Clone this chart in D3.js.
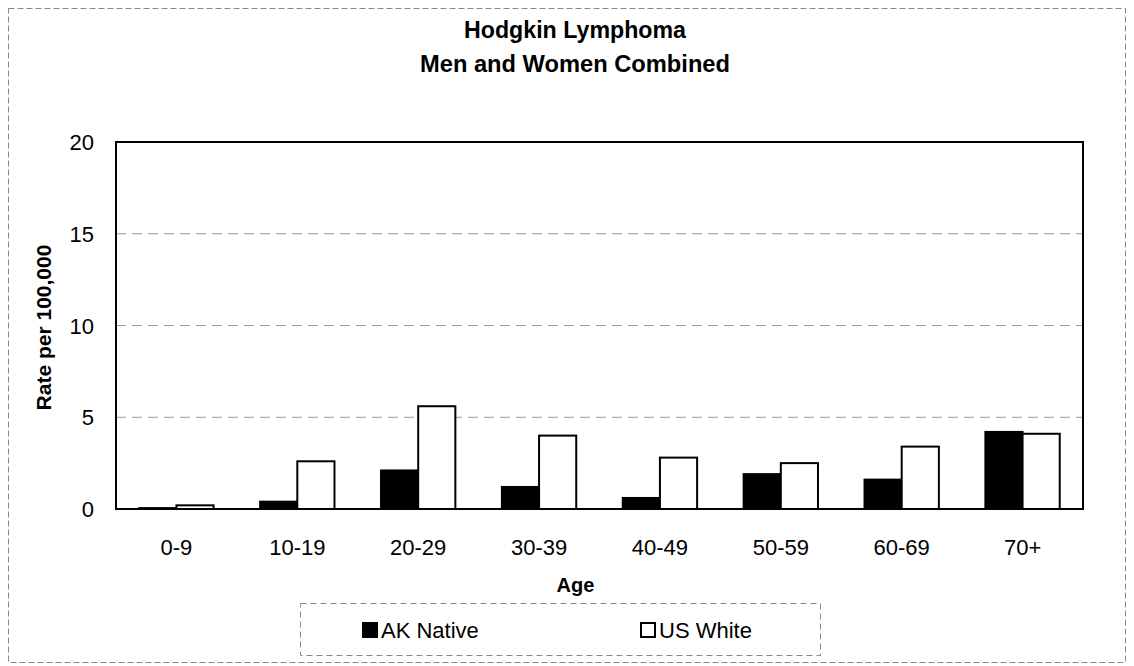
<!DOCTYPE html>
<html>
<head>
<meta charset="utf-8">
<script src="https://cdn.jsdelivr.net/npm/d3@7"></script>
<style>
  body { margin: 0; background: #fff; }
  text { font-family: "Liberation Sans", Arial, sans-serif; fill: #000; }
</style>
</head>
<body>
<svg width="1134" height="666"></svg>
<script>
// data
var ageGroups = ["0-9", "10-19", "20-29", "30-39", "40-49", "50-59", "60-69", "70+"];
var akNative = [0.05, 0.4, 2.1, 1.2, 0.6, 1.9, 1.6, 4.2];
var usWhite = [0.2, 2.6, 5.6, 4.0, 2.8, 2.5, 3.4, 4.1];
var seriesNames = ["AK Native", "US White"];
var seriesFill = ["#000", "#fff"];
var yTicks = [0, 5, 10, 15, 20];
var titleLines = ["Hodgkin Lymphoma", "Men and Women Combined"];

var svg = d3.select("svg"),
    width = +svg.attr("width"),
    height = +svg.attr("height");

var plotLeft = 116, plotRight = 1083, plotTop = 142, plotBottom = 509;

// outer chart border (dashed, light)
svg.append("rect")
    .attr("x", 8.5).attr("y", 8.5)
    .attr("width", width - 17).attr("height", height - 12)
    .attr("fill", "none")
    .attr("stroke", "#888")
    .attr("stroke-width", 1)
    .attr("stroke-dasharray", "6,3");

// title - condensed bold, squeezed to the reference widths
var titleWidths = [222, 310];
svg.selectAll("text.title")
    .data(titleLines)
    .enter().append("text")
    .attr("class", "title")
    .attr("x", 575)
    .attr("y", function (d, i) { return 38 + i * 34; })
    .attr("text-anchor", "middle")
    .attr("textLength", function (d, i) { return titleWidths[i]; })
    .attr("lengthAdjust", "spacingAndGlyphs")
    .style("font-size", "24px").style("font-weight", "bold")
    .text(function (d) { return d; });

var x0 = d3.scaleBand()
    .domain(ageGroups)
    .range([plotLeft, plotRight])
    .paddingInner(0.385)
    .paddingOuter(0.1925);

var x1 = d3.scaleBand()
    .domain(seriesNames)
    .range([0, x0.bandwidth()]);

var y = d3.scaleLinear()
    .domain([0, 20])
    .range([plotBottom, plotTop]);

// gridlines
svg.append("g")
    .selectAll("line")
    .data(yTicks.filter(function (d) { return d > 0 && d < 20; }))
    .enter().append("line")
    .attr("x1", plotLeft).attr("x2", plotRight)
    .attr("y1", function (d) { return y(d); })
    .attr("y2", function (d) { return y(d); })
    .attr("stroke", "#999")
    .attr("stroke-width", 1)
    .attr("stroke-dasharray", "10,6");

// bars
var rows = ageGroups.map(function (a, i) {
    return { age: a, values: [akNative[i], usWhite[i]] };
});

var group = svg.append("g")
    .selectAll("g")
    .data(rows)
    .enter().append("g")
    .attr("transform", function (d) { return "translate(" + x0(d.age) + ",0)"; });

group.selectAll("rect")
    .data(function (d) { return d.values.map(function (v, j) { return { v: v, s: seriesNames[j], j: j }; }); })
    .enter().append("rect")
    .attr("x", function (d) { return x1(d.s); })
    .attr("y", function (d) { return y(d.v); })
    .attr("width", x1.bandwidth())
    .attr("height", function (d) { return plotBottom - y(d.v); })
    .attr("fill", function (d) { return seriesFill[d.j]; })
    .attr("stroke", "#000")
    .attr("stroke-width", 2);

// plot frame
svg.append("rect")
    .attr("x", plotLeft).attr("y", plotTop)
    .attr("width", plotRight - plotLeft).attr("height", plotBottom - plotTop)
    .attr("fill", "none")
    .attr("stroke", "#000")
    .attr("stroke-width", 2);

// y axis
var yAxis = d3.axisLeft(y).tickValues(yTicks).tickSize(0).tickPadding(22);
var gy = svg.append("g")
    .attr("transform", "translate(" + plotLeft + ",0)")
    .call(yAxis);
gy.select(".domain").remove();
gy.selectAll("text")
    .style("font-size", "22px")
    .style("font-family", "'Liberation Sans', Arial, sans-serif")
    .attr("dy", "0.35em");

// x axis
var xAxis = d3.axisBottom(x0).tickSize(0).tickPadding(38);
var gx = svg.append("g")
    .attr("transform", "translate(0," + plotBottom + ")")
    .call(xAxis);
gx.select(".domain").remove();
gx.selectAll("text")
    .style("font-size", "22px")
    .style("font-family", "'Liberation Sans', Arial, sans-serif")
    .attr("dy", "0.35em");

// axis titles
svg.append("text")
    .attr("x", (plotLeft + plotRight) / 2 - 24).attr("y", 592)
    .attr("text-anchor", "middle")
    .style("font-size", "20px").style("font-weight", "bold")
    .text("Age");

svg.append("text")
    .attr("transform", "translate(51," + ((plotTop + plotBottom) / 2 + 2) + ") rotate(-90)")
    .attr("text-anchor", "middle")
    .style("font-size", "21px").style("font-weight", "bold")
    .text("Rate per 100,000");

// legend
var legend = svg.append("g");
legend.append("rect")
    .attr("x", 300.5).attr("y", 603.5)
    .attr("width", 520).attr("height", 52)
    .attr("fill", "none")
    .attr("stroke", "#888")
    .attr("stroke-dasharray", "6,4");

var legendX = [362, 640];
var item = legend.selectAll("g.item")
    .data(seriesNames)
    .enter().append("g")
    .attr("class", "item")
    .attr("transform", function (d, i) { return "translate(" + legendX[i] + ",622)"; });
item.append("rect")
    .attr("x", 1).attr("y", 1)
    .attr("width", 14).attr("height", 14)
    .attr("fill", function (d, i) { return seriesFill[i]; })
    .attr("stroke", "#000")
    .attr("stroke-width", 2);
item.append("text")
    .attr("x", 19).attr("y", 16)
    .style("font-size", "22px")
    .text(function (d) { return d; });
</script>
</body>
</html>
